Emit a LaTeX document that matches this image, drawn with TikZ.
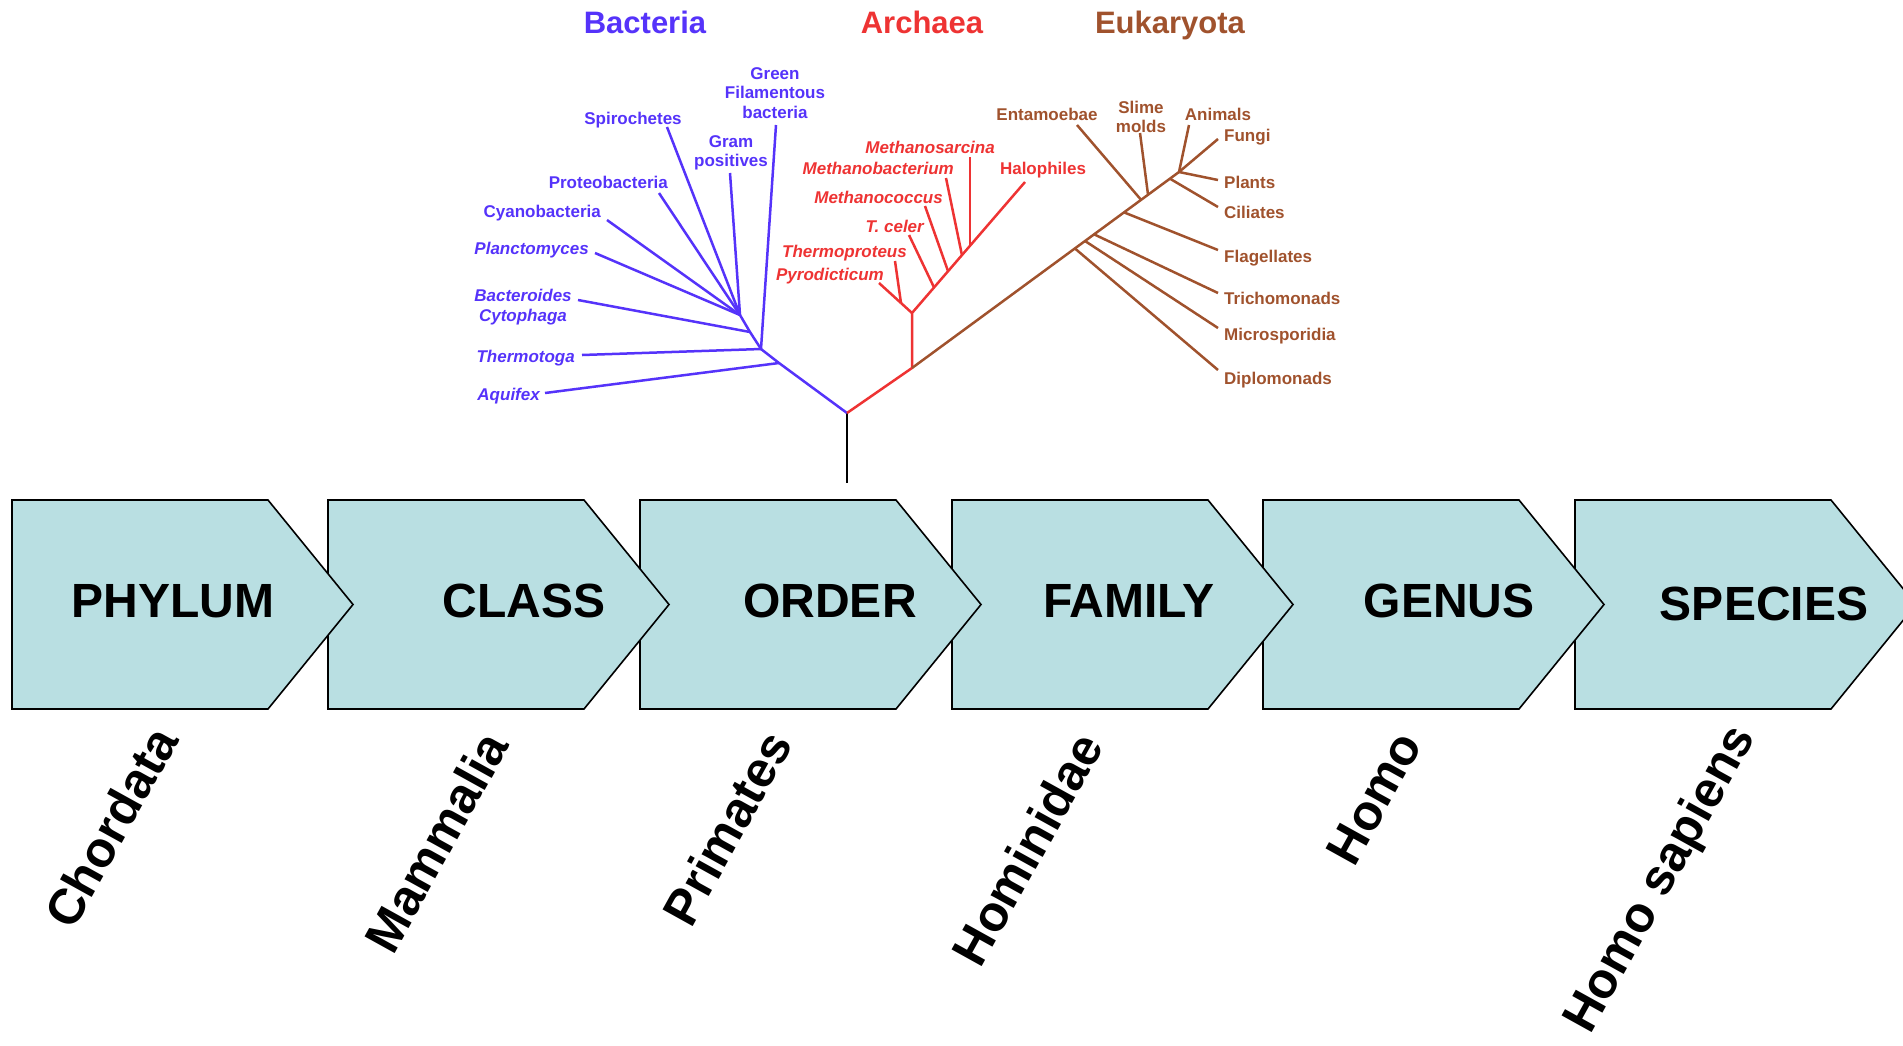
\documentclass[tikz,border=0pt]{standalone}
\usepackage{fontspec}
\setmainfont{Liberation Sans}
\usetikzlibrary{calc}
\definecolor{bact}{RGB}{85,51,250}
\definecolor{arch}{RGB}{238,51,51}
\definecolor{euk}{RGB}{160,82,45}
\definecolor{chev}{RGB}{185,223,226}
\begin{document}
\begin{tikzpicture}[x=1pt,y=-1pt,
  branch/.style={line width=2.5pt},
  lbl/.style={font=\fontsize{17}{20}\selectfont\bfseries, inner sep=0pt, text height=12.3pt, text depth=0pt},
  ilbl/.style={lbl, font=\fontsize{17}{20}\selectfont\bfseries\itshape},
  mlbl/.style={font=\fontsize{17}{19.5}\selectfont\bfseries, inner sep=0pt, align=center},
  imlbl/.style={mlbl, font=\fontsize{17}{19.5}\selectfont\bfseries\itshape},
  title/.style={font=\fontsize{31}{36}\selectfont\bfseries, inner sep=0pt, text height=22.5pt, text depth=0pt},
  chevbox/.style={draw=black, line width=1.6pt, fill=chev, line join=miter},
  rank/.style={font=\fontsize{48}{56}\selectfont\bfseries, inner sep=0pt, text height=35pt, text depth=0pt},
  taxon/.style={font=\fontsize{50}{60}\selectfont\bfseries, inner sep=0pt, rotate=61},
]
\useasboundingbox (0,0) rectangle (1903,1045);

% ---------- chevrons (right to left so each tip lies over the next box)
\foreach \L in {1575,1263,952,640,328,12}{
  \draw[chevbox] (\L,500) -- (\L+256,500) -- (\L+341,604.5) -- (\L+256,709) -- (\L,709) -- cycle;
}
\node[rank] (phylum)  at (173,600) {PHYLUM};
\node[rank] (class)   at (524,600) {CLASS};
\node[rank] (order)   at (830,600) {ORDER};
\node[rank] (family)  at (1129,600) {FAMILY};
\node[rank] (genus)   at (1449,600) {GENUS};
\node[rank] (species) at (1764,603) {SPECIES};

% ---------- taxa below
\node[taxon] (chordata)  at (111,827) {Chordata};
\node[taxon] (mammalia)  at (436,842) {Mammalia};
\node[taxon] (primates)  at (727,828) {Primates};
\node[taxon] (hominidae) at (1027,849) {Hominidae};
\node[taxon] (homo)      at (1374,798) {Homo};
\node[taxon] (sapiens)   at (1662,880) {Homo sapiens};

% ---------- titles
\node[title, text=bact] (tbact) at (645,22) {Bacteria};
\node[title, text=arch] (tarch) at (922,22) {Archaea};
\node[title, text=euk]  (teuk)  at (1170,22) {Eukaryota};

% ---------- tree coordinates
\coordinate (root) at (847,413);
\coordinate (base) at (847,483);
% bacteria
\coordinate (bAq) at (779,363);
\coordinate (b1)  at (761,349);
\coordinate (bBc) at (750,332);
\coordinate (b2)  at (740,315);
\coordinate (eAq) at (545,393);
\coordinate (eTt) at (582,355);
\coordinate (eBc) at (578,300);
\coordinate (ePl) at (595,253);
\coordinate (eCy) at (607,220);
\coordinate (ePr) at (659,193);
\coordinate (eSp) at (667,127);
\coordinate (eGp) at (730,173);
\coordinate (eGf) at (776,125);
% archaea
\coordinate (a0)   at (912,368);
\coordinate (a1)   at (912,313);
\coordinate (aP)   at (901,303);
\coordinate (aHal) at (1025,182);
\coordinate (aTc)  at ($(a1)!0.195!(aHal)$);
\coordinate (aMc)  at ($(a1)!0.319!(aHal)$);
\coordinate (aMb)  at ($(a1)!0.442!(aHal)$);
\coordinate (aMs)  at (970,245);
\coordinate (ePy)  at (879,283);
\coordinate (eTp)  at (895,261);
\coordinate (eTc)  at (909,235);
\coordinate (eMc)  at (925,206);
\coordinate (eMb)  at (946,178);
\coordinate (eMs)  at (970,157);
% eukaryota
\coordinate (crown) at (1179,172);
\coordinate (jDi) at ($(a0)!0.61!(crown)$);
\coordinate (jMi) at ($(a0)!0.648!(crown)$);
\coordinate (jTr) at ($(a0)!0.682!(crown)$);
\coordinate (jFl) at ($(a0)!0.794!(crown)$);
\coordinate (jEn) at ($(a0)!0.858!(crown)$);
\coordinate (jSm) at ($(a0)!0.884!(crown)$);
\coordinate (jCi) at ($(a0)!0.966!(crown)$);
\coordinate (eDi) at (1218,370);
\coordinate (eMi) at (1218,328);
\coordinate (eTr) at (1218,293);
\coordinate (eFl) at (1218,250);
\coordinate (eCi) at (1218,207);
\coordinate (ePt) at (1218,180);
\coordinate (eFu) at (1218,139);
\coordinate (eAn) at (1189,125);
\coordinate (eSm) at (1140,133);
\coordinate (eEn) at (1077,125);

% ---------- tree lines
\draw[branch, black] (root) -- (base);
\draw[branch, bact, line join=round] (root) -- (bAq) -- (b1) -- (bBc) -- (b2);
\draw[branch, bact] (bAq) -- (eAq);
\draw[branch, bact] (b1) -- (eTt);
\draw[branch, bact] (b1) -- (eGf);
\draw[branch, bact] (bBc) -- (eBc);
\draw[branch, bact] (b2) -- (ePl);
\draw[branch, bact] (b2) -- (eCy);
\draw[branch, bact] (b2) -- (ePr);
\draw[branch, bact] (b2) -- (eSp);
\draw[branch, bact] (b2) -- (eGp);

\draw[branch, arch, line join=round] (root) -- (a0) -- (a1) -- (aHal);
\draw[branch, arch] (a1) -- (aP);
\draw[branch, arch] (aP) -- (ePy);
\draw[branch, arch] (aP) -- (eTp);
\draw[branch, arch] (aTc) -- (eTc);
\draw[branch, arch] (aMc) -- (eMc);
\draw[branch, arch] (aMb) -- (eMb);
\draw[branch, arch] (aMs) -- (eMs);

\draw[branch, euk] (a0) -- (crown);
\draw[branch, euk] (jDi) -- (eDi);
\draw[branch, euk] (jMi) -- (eMi);
\draw[branch, euk] (jTr) -- (eTr);
\draw[branch, euk] (jFl) -- (eFl);
\draw[branch, euk] (jEn) -- (eEn);
\draw[branch, euk] (jSm) -- (eSm);
\draw[branch, euk] (jCi) -- (eCi);
\draw[branch, euk] (crown) -- (ePt);
\draw[branch, euk] (crown) -- (eFu);
\draw[branch, euk] (crown) -- (eAn);

% ---------- bacteria labels
\node[mlbl, text=bact] (lGf) at (775,93) {Green\\Filamentous\\bacteria};
\node[lbl, text=bact] (lSp) at (633,118) {Spirochetes};
\node[mlbl, text=bact] (lGp) at (731,153) {Gram\\positives};
\node[lbl, text=bact, anchor=east] (lPr) at (668,182) {Proteobacteria};
\node[lbl, text=bact, anchor=east] (lCy) at (601,211) {Cyanobacteria};
\node[ilbl, text=bact, anchor=east] (lPl) at (589,248) {Planctomyces};
\node[imlbl, text=bact] (lBc) at (523,307) {Bacteroides\\Cytophaga};
\node[ilbl, text=bact, anchor=east] (lTt) at (575,356) {Thermotoga};
\node[ilbl, text=bact, anchor=east] (lAq) at (540,394) {Aquifex};

% ---------- archaea labels
\node[ilbl, text=arch, anchor=east] (lMs) at (995,147) {Methanosarcina};
\node[ilbl, text=arch, anchor=east] (lMb) at (954,168) {Methanobacterium};
\node[lbl, text=arch] (lHa) at (1043,168) {Halophiles};
\node[ilbl, text=arch, anchor=east] (lMc) at (943,197) {Methanococcus};
\node[ilbl, text=arch, anchor=east] (lTc) at (924,226) {T. celer};
\node[ilbl, text=arch, anchor=east] (lTp) at (907,251) {Thermoproteus};
\node[ilbl, text=arch, anchor=east] (lPy) at (884,274) {Pyrodicticum};

% ---------- eukaryota labels
\node[lbl, text=euk] (lEn) at (1047,114) {Entamoebae};
\node[mlbl, text=euk] (lSm) at (1141,117) {Slime\\molds};
\node[lbl, text=euk] (lAn) at (1218,114) {Animals};
\node[lbl, text=euk, anchor=west] (lFu) at (1224,135) {Fungi};
\node[lbl, text=euk, anchor=west] (lPt) at (1224,182) {Plants};
\node[lbl, text=euk, anchor=west] (lCi) at (1224,212) {Ciliates};
\node[lbl, text=euk, anchor=west] (lFl) at (1224,256) {Flagellates};
\node[lbl, text=euk, anchor=west] (lTr) at (1224,298) {Trichomonads};
\node[lbl, text=euk, anchor=west] (lMi) at (1224,334) {Microsporidia};
\node[lbl, text=euk, anchor=west] (lDi) at (1224,378) {Diplomonads};
\end{tikzpicture}
\end{document}
